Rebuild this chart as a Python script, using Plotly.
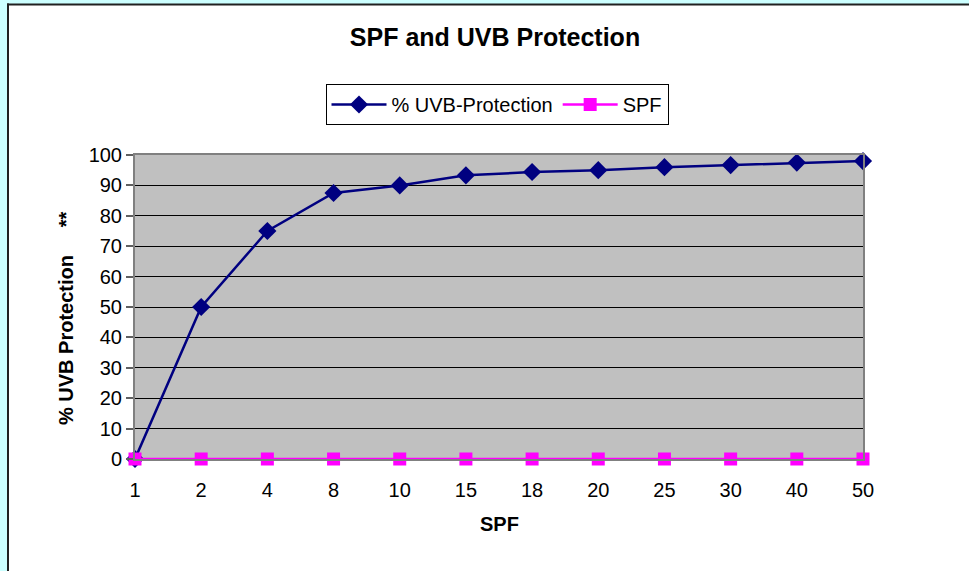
import plotly.graph_objects as go

spf_labels = ["1", "2", "4", "8", "10", "15", "18", "20", "25", "30", "40", "50"]
uvb_protection = [0, 50, 75, 87.5, 90, 93.3, 94.4, 95, 96, 96.7, 97.5, 98]
spf_series = [0, 0, 0, 0, 0, 0, 0, 0, 0, 0, 0, 0]
y_ticks = [0, 10, 20, 30, 40, 50, 60, 70, 80, 90, 100]

FONT = "Liberation Sans, Arial, sans-serif"
L, R, T, B = 135, 106, 155, 112
PW, PH = 969 - L - R, 571 - T - B

def px_x(p):
    return (p - L) / PW

def px_y(p):
    return (571 - B - p) / PH

fig = go.Figure()
fig.add_trace(go.Scatter(
    x=spf_labels, y=uvb_protection, name="% UVB-Protection",
    mode="lines+markers",
    line=dict(color="#000080", width=2.5),
    marker=dict(symbol="diamond", size=14, color="#000080"),
    cliponaxis=False,
))
fig.add_trace(go.Scatter(
    x=spf_labels, y=spf_series, name="SPF",
    mode="lines+markers",
    line=dict(color="#FF00FF", width=2.5),
    marker=dict(symbol="square", size=13, color="#FF00FF"),
    cliponaxis=False,
))

shapes = [
    dict(type="rect", xref="paper", yref="paper", x0=px_x(-10), x1=px_x(7), y0=px_y(600), y1=px_y(-10),
         fillcolor="#CCFFFF", line=dict(width=0), layer="above"),
    dict(type="rect", xref="paper", yref="paper", x0=px_x(-10), x1=px_x(1000), y0=px_y(4), y1=px_y(-10),
         fillcolor="#CCFFFF", line=dict(width=0), layer="above"),
    dict(type="line", xref="paper", yref="paper", x0=px_x(8), x1=px_x(8), y0=px_y(600), y1=px_y(3.5),
         line=dict(color="#202020", width=2), layer="above"),
    dict(type="line", xref="paper", yref="paper", x0=px_x(7), x1=px_x(1000), y0=px_y(4.5), y1=px_y(4.5),
         line=dict(color="#202020", width=2), layer="above"),
]

annotations = [
    dict(text="<b>SPF</b>", xref="paper", yref="paper", x=px_x(499), y=px_y(524),
         xanchor="center", yanchor="middle", showarrow=False,
         font=dict(family=FONT, size=20, color="black")),
    dict(text="<b>% UVB Protection&nbsp;&nbsp;&nbsp;&nbsp;&nbsp;**</b>", xref="paper", yref="paper",
         x=px_x(66), y=px_y(318),
         xanchor="center", yanchor="middle", showarrow=False, textangle=-90,
         font=dict(family=FONT, size=20, color="black")),
]

fig.update_layout(
    width=969, height=571,
    margin=dict(l=L, r=R, t=T, b=B, autoexpand=False),
    paper_bgcolor="white",
    plot_bgcolor="#C0C0C0",
    font=dict(family=FONT, size=20, color="black"),
    title=dict(text="<b>SPF and UVB Protection</b>", x=495 / 969, xref="container", xanchor="center",
               y=1 - 37 / 571, yref="container", yanchor="middle",
               font=dict(family=FONT, size=25, color="black")),
    legend=dict(orientation="h", x=px_x(497), y=px_y(84), xanchor="center", yanchor="top",
                bgcolor="white", bordercolor="black", borderwidth=1,
                font=dict(family=FONT, size=20, color="black"), itemwidth=55,
                itemsizing="trace"),
    shapes=shapes,
    annotations=annotations,
    xaxis=dict(type="category", range=[0, 11], showgrid=False, zeroline=False,
               showline=True, linecolor="#808080", linewidth=2, mirror=True,
               ticks="", ticklabelstandoff=12,
               tickfont=dict(family=FONT, size=20, color="black")),
    yaxis=dict(range=[0, 100], tickvals=y_ticks, showgrid=True, gridcolor="black", gridwidth=1,
               zeroline=False, showline=True, linecolor="#808080", linewidth=2, mirror=True,
               ticks="outside", ticklen=7, tickcolor="#606060", tickwidth=2,
               tickfont=dict(family=FONT, size=20, color="black")),
    showlegend=True,
)

fig.write_html("out.html", config={"displayModeBar": False},
               post_script="document.body.style.margin='0px';document.body.style.overflow='hidden';")
